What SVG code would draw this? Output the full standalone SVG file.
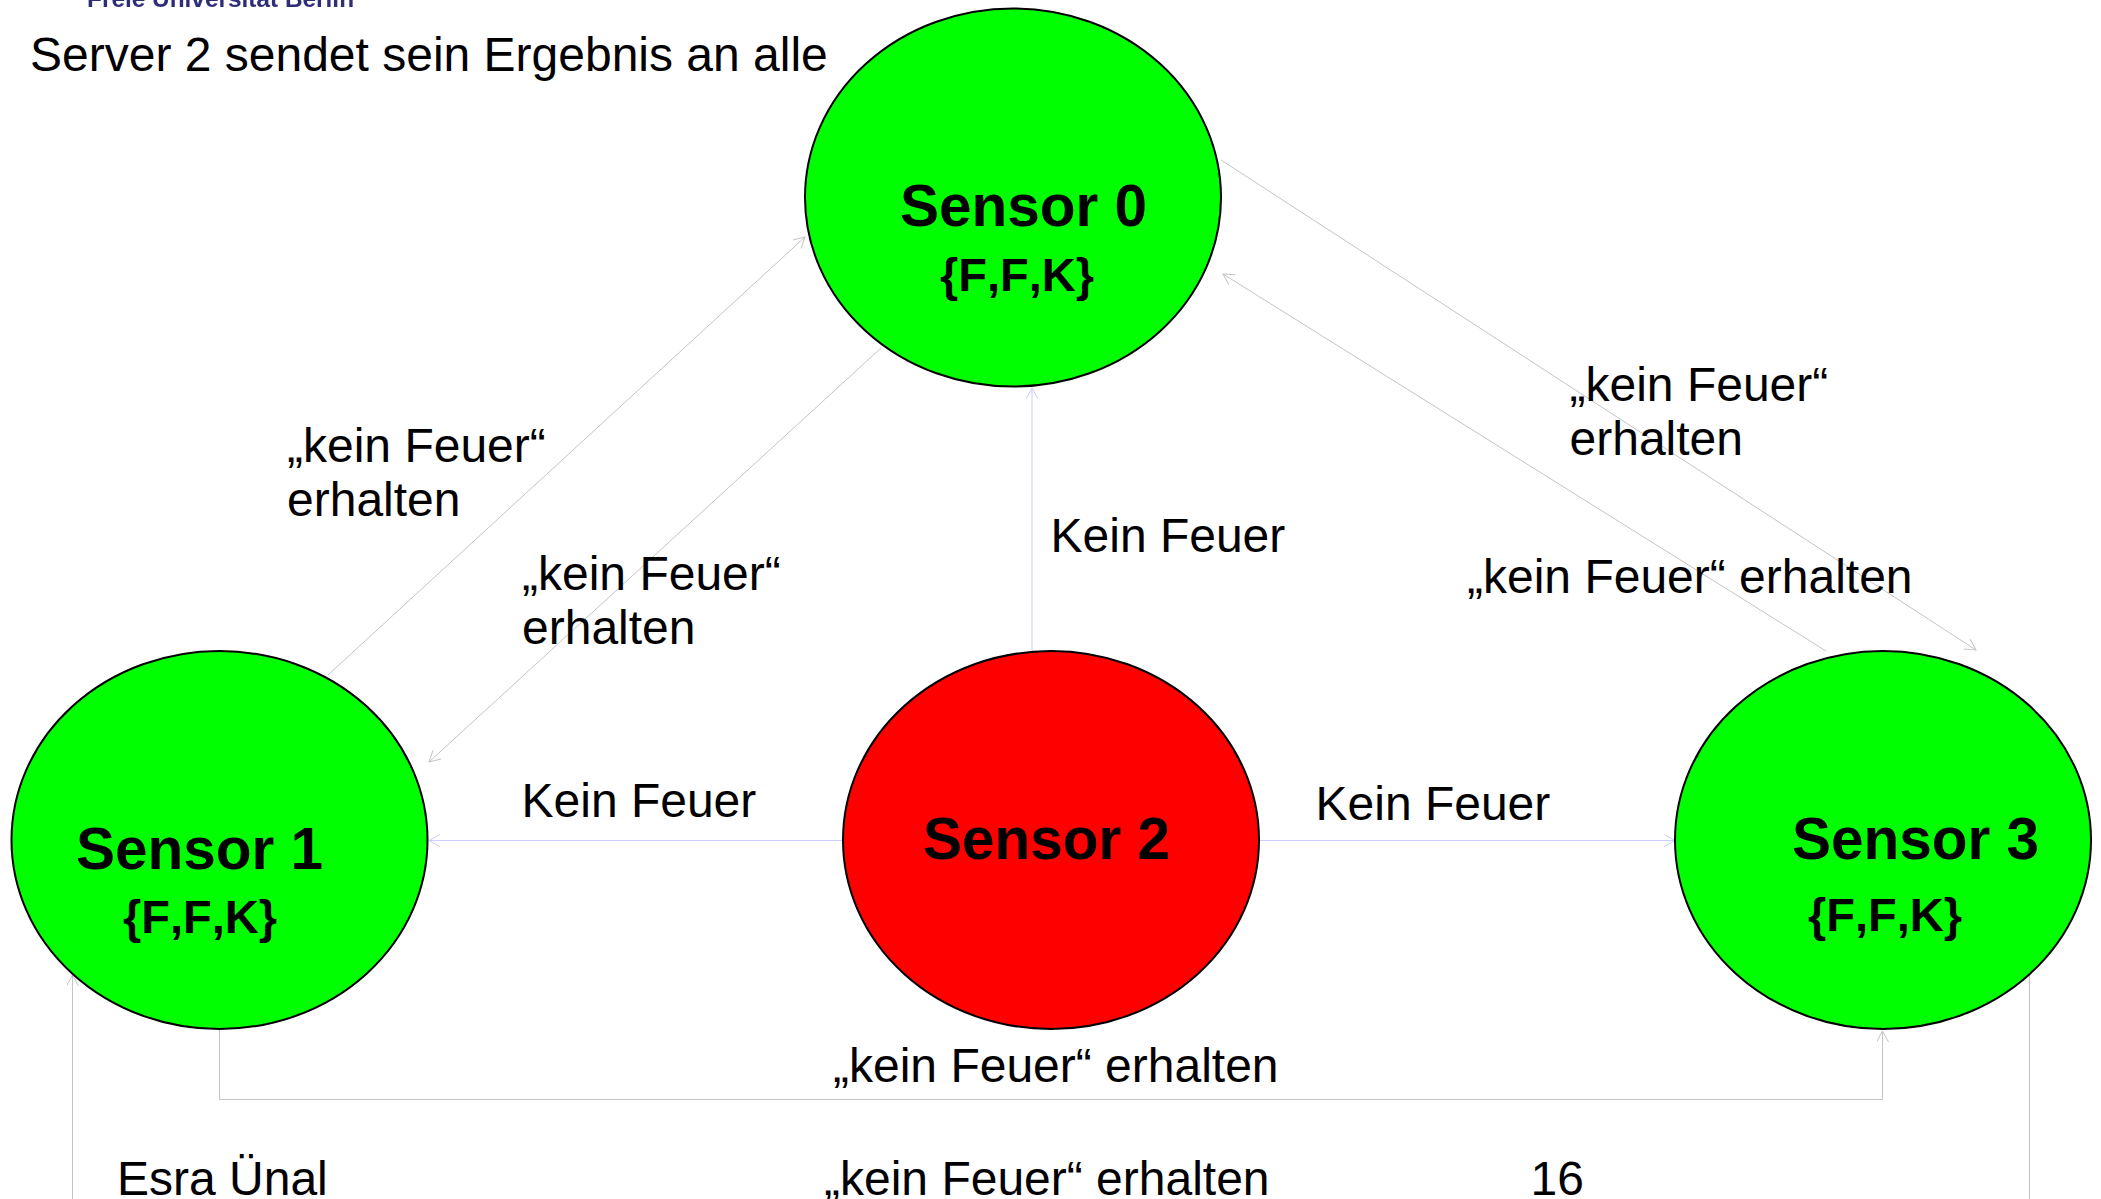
<svg xmlns="http://www.w3.org/2000/svg" width="2101" height="1199" viewBox="0 0 2101 1199">
<style>
text{font-family:"Liberation Sans",Arial,sans-serif;fill:#000}
.l{font-size:48px}
.n{font-size:58.5px;font-weight:bold}
.s{font-size:47px;font-weight:bold;font-kerning:none}
.c{fill:none;stroke:#c4c4c4;stroke-width:1;marker-end:url(#a)}
.b{fill:none;stroke:#ccccff;stroke-width:1;marker-end:url(#b)}
ellipse{stroke:#000;stroke-width:2}
.logo{fill:#2f2f78;font-size:24.4px;font-weight:bold}
</style>
<defs>
<marker id="a" markerUnits="userSpaceOnUse" markerWidth="12" markerHeight="14" refX="11" refY="6" orient="auto"><path d="M0 0L11 6L0 12" fill="none" stroke="#c4c4c4"/></marker>
<marker id="b" markerUnits="userSpaceOnUse" markerWidth="12" markerHeight="14" refX="11" refY="6" orient="auto"><path d="M0 0L11 6L0 12" fill="none" stroke="#ccccff"/></marker>
<filter id="blur" x="-5%" y="-50%" width="110%" height="200%"><feGaussianBlur stdDeviation="0.7"/></filter>
</defs>
<rect width="2101" height="1199" fill="#fff"/>
<text class="logo" x="87" y="7" filter="url(#blur)">Freie Universität Berlin</text>
<g id="connectors">
<path class="c" d="M328 675L805 237"/>
<path class="c" d="M881 348L429 762"/>
<path class="c" d="M1221 160L1976 650"/>
<path class="c" d="M1826 651L1223 274"/>
<path class="c" d="M219.5 1029V1099.5H1882.5V1031"/>
<path class="c" d="M2029.5 975V1215H72.5V975"/>
<path class="b" d="M843 840.5H429"/>
<path class="b" d="M1259 840.5H1675"/>
<path class="b" d="M1032 651V388"/>
</g>
<g id="sensor0"><ellipse cx="1013" cy="197.500" rx="208" ry="189" fill="#00ff00"/><text class="n" x="900" y="226">Sensor 0</text><text class="s" x="940" y="291">{F,F,K}</text></g>
<g id="sensor1"><ellipse cx="219.500" cy="840" rx="208" ry="189" fill="#00ff00"/><text class="n" x="76" y="869">Sensor 1</text><text class="s" x="123" y="933">{F,F,K}</text></g>
<g id="sensor2"><ellipse cx="1051" cy="840" rx="208" ry="189" fill="#ff0000"/><text class="n" x="923" y="859">Sensor 2</text></g>
<g id="sensor3"><ellipse cx="1883" cy="840" rx="208" ry="189" fill="#00ff00"/><text class="n" x="1792" y="859">Sensor 3</text><text class="s" x="1808" y="931">{F,F,K}</text></g>
<g id="labels">
<text class="l" x="30" y="71">Server 2 sendet sein Ergebnis an alle</text>
<text class="l" x="287" y="462">„kein Feuer“</text><text class="l" x="287" y="515.500">erhalten</text>
<text class="l" x="522" y="590">„kein Feuer“</text><text class="l" x="522" y="644">erhalten</text>
<text class="l" x="1569.500" y="401">„kein Feuer“</text><text class="l" x="1569.500" y="455">erhalten</text>
<text class="l" x="1467" y="593">„kein Feuer“ erhalten</text>
<text class="l" x="1050.500" y="552">Kein Feuer</text>
<text class="l" x="521.500" y="817">Kein Feuer</text>
<text class="l" x="1315.500" y="820">Kein Feuer</text>
<text class="l" x="833" y="1082">„kein Feuer“ erhalten</text>
<text class="l" x="824" y="1195">„kein Feuer“ erhalten</text>
<text class="l" x="117" y="1195">Esra Ünal</text>
<text class="l" x="1530.500" y="1195">16</text>
</g>
</svg>
